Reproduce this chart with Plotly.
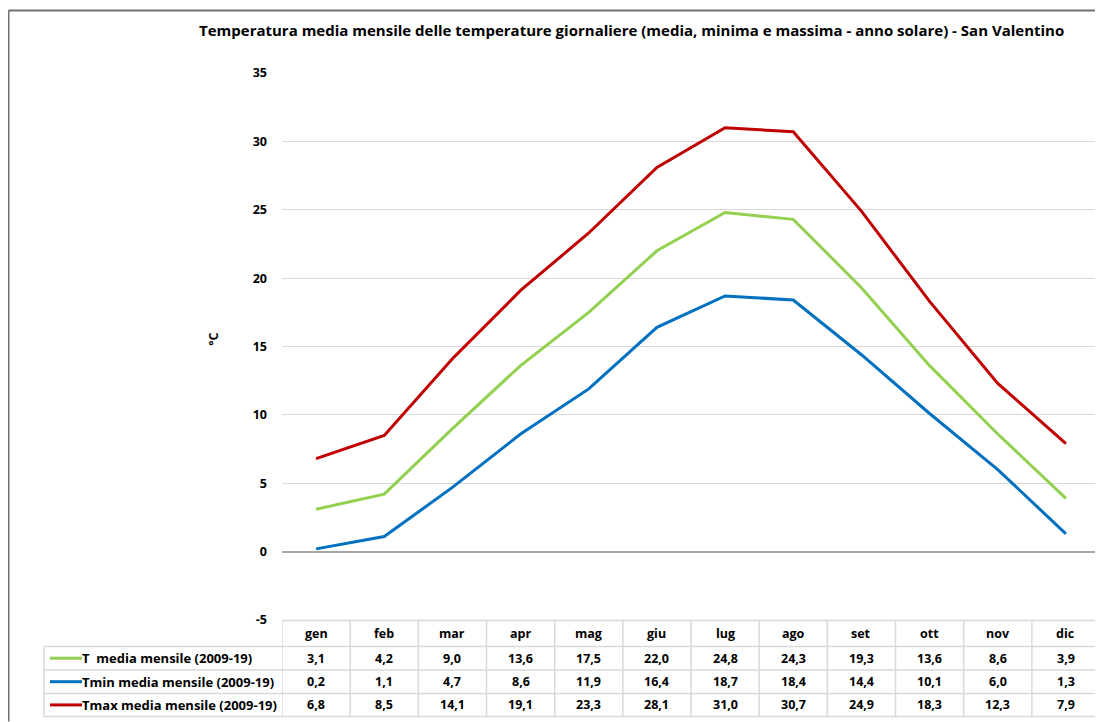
import plotly.graph_objects as go

months = ["gen", "feb", "mar", "apr", "mag", "giu", "lug", "ago", "set", "ott", "nov", "dic"]
t_media = [3.1, 4.2, 9.0, 13.6, 17.5, 22.0, 24.8, 24.3, 19.3, 13.6, 8.6, 3.9]
t_min = [0.2, 1.1, 4.7, 8.6, 11.9, 16.4, 18.7, 18.4, 14.4, 10.1, 6.0, 1.3]
t_max = [6.8, 8.5, 14.1, 19.1, 23.3, 28.1, 31.0, 30.7, 24.9, 18.3, 12.3, 7.9]
y_ticks = [-5, 0, 5, 10, 15, 20, 25, 30, 35]

series = [
    ("T  media mensile (2009-19)", t_media, "#92D050"),
    ("Tmin media mensile (2009-19)", t_min, "#0070C0"),
    ("Tmax media mensile (2009-19)", t_max, "#C00000"),
]

# page body has an 8px margin, so the figure starts at (8, 8) in the screenshot
OFF = 8
W, H = 1103 - OFF, 722 - OFF
L, R, T, B = 282 - OFF, 3, 73 - OFF, 101.5
plot_w = W - L - R
plot_h = H - T - B
FONT = "Open Sans"
GRID = "#D9D9D9"


def px_x(px):
    return (px - OFF - L) / plot_w


def px_y(py):
    return (H - B - (py - OFF)) / plot_h


def fmt(v):
    return f"{v:.1f}".replace(".", ",")


def bold(size):
    return dict(family=FONT, size=size, color="#000", weight="bold")


def label(x, y, text, size=12.5, xref="paper", xanchor="center", **kw):
    return dict(x=x, y=y, xref=xref, yref="paper", text=text, showarrow=False,
                xanchor=xanchor, yanchor="middle", font=bold(size), **kw)


fig = go.Figure()
for name, vals, col in series:
    fig.add_trace(go.Scatter(x=list(range(len(months))), y=vals, mode="lines", name=name,
                             line=dict(color=col, width=3), showlegend=False))

shapes = []
annotations = []

# table rows (pixel y boundaries in the screenshot)
rows_y = [621, 647, 670.5, 694, 717]
shapes.append(dict(type="line", xref="paper", yref="paper", x0=0, x1=1,
                   y0=px_y(rows_y[0]), y1=px_y(rows_y[0]), line=dict(color=GRID, width=1.5)))
for yy in rows_y[1:]:
    shapes.append(dict(type="line", xref="paper", yref="paper", x0=px_x(44), x1=1,
                       y0=px_y(yy), y1=px_y(yy), line=dict(color=GRID, width=1.5)))
for k in range(len(months) + 1):
    shapes.append(dict(type="line", xref="x", yref="paper", x0=k - 0.5, x1=k - 0.5,
                       y0=px_y(rows_y[0]), y1=px_y(rows_y[-1]), line=dict(color=GRID, width=1.5)))
shapes.append(dict(type="line", xref="paper", yref="paper", x0=px_x(44), x1=px_x(44),
                   y0=px_y(rows_y[1]), y1=px_y(rows_y[-1]), line=dict(color=GRID, width=1.5)))

for i, m in enumerate(months):
    annotations.append(label(i, px_y((rows_y[0] + rows_y[1]) / 2), m, xref="x"))

for r, (name, vals, col) in enumerate(series):
    yc = px_y((rows_y[r + 1] + rows_y[r + 2]) / 2)
    for i, v in enumerate(vals):
        annotations.append(label(i, yc, fmt(v), xref="x"))
    shapes.append(dict(type="line", xref="paper", yref="paper", x0=px_x(50), x1=px_x(82),
                       y0=yc, y1=yc, line=dict(color=col, width=3)))
    annotations.append(label(px_x(80), yc, name, size=13, xanchor="left"))

annotations.append(label(px_x(631), px_y(30),
                         "Temperatura media mensile delle temperature giornaliere (media, minima e massima - anno solare) - San Valentino",
                         size=15))
annotations.append(label(px_x(214), px_y(340), "°C", textangle=-90))

# chart area border (top and left)
shapes.append(dict(type="line", xref="paper", yref="paper", x0=px_x(8.5), x1=px_x(1103),
                   y0=px_y(10.5), y1=px_y(10.5), line=dict(color="#707070", width=2)))
shapes.append(dict(type="line", xref="paper", yref="paper", x0=px_x(8.5), x1=px_x(8.5),
                   y0=px_y(10.5), y1=px_y(722), line=dict(color="#707070", width=2)))

fig.update_layout(
    width=W, height=H,
    margin=dict(l=L, r=R, t=T, b=B),
    plot_bgcolor="white", paper_bgcolor="white",
    shapes=shapes, annotations=annotations,
    xaxis=dict(range=[-0.5, len(months) - 0.5], showgrid=False, showticklabels=False,
               zeroline=False, showline=False),
    yaxis=dict(range=[-5, 35], tickvals=y_ticks, ticktext=[str(v) for v in y_ticks],
               showgrid=True, gridcolor=GRID, gridwidth=1,
               zeroline=True, zerolinecolor="#A6A6A6", zerolinewidth=1.5, showline=False,
               ticklabelstandoff=14, tickfont=bold(12.5)),
)

fig.write_html("out.html")
